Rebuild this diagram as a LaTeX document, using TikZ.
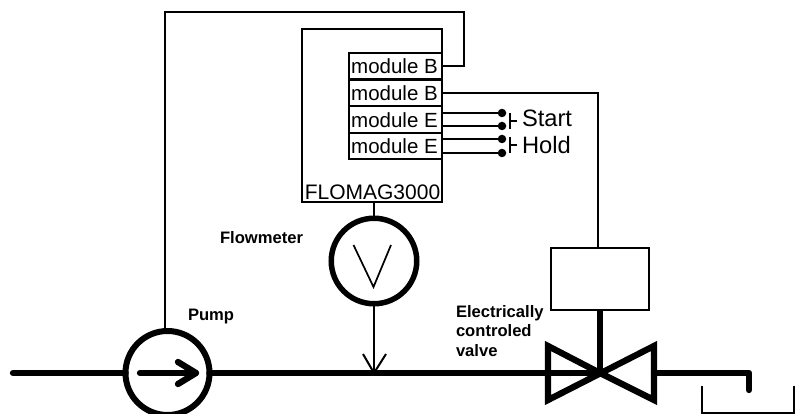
\documentclass[tikz,border=0pt]{standalone}
\usepackage{fontspec}
\setmainfont{Liberation Sans}
\begin{document}
\begin{tikzpicture}[x=1pt,y=-1pt,line cap=butt,
  every node/.style={outer sep=0pt},
  wire/.style={draw=black,line width=2pt},
  pipe/.style={draw=black,line width=6.3pt,line cap=round,line join=round},
  modulebox/.style={draw=black,line width=2pt,fill=white,minimum width=93pt,minimum height=26.5pt,inner sep=0pt,anchor=north west,font=\fontsize{20.5}{21}\selectfont},
  bold label/.style={font=\fontsize{16.6}{19.7}\selectfont\bfseries,inner sep=0pt,anchor=west,align=left},
  plain label/.style={font=\fontsize{23.7}{25}\selectfont,inner sep=0pt,anchor=west},
  contact/.style={circle,fill=black,minimum size=8.5pt,inner sep=0pt}]
\useasboundingbox (0,0) rectangle (796,414);
% controller
\node[draw=black,line width=2pt,minimum width=140pt,minimum height=173pt,inner sep=0pt,anchor=north west] (flomag) at (302,29) {};
\node[font=\fontsize{21}{22}\selectfont,inner sep=0pt,anchor=south] (flomagname) at (372.5,200) {FLOMAG3000};
\node[modulebox] (m1) at (349,53) {module B\kern2pt};
\node[modulebox] (m2) at (349,80) {module B\kern2pt};
\node[modulebox] (m3) at (349,106.5) {module E\kern2pt};
\node[modulebox] (m4) at (349,133) {module E\kern2pt};
% pump
\node[circle,draw=black,line width=6pt,minimum size=84pt,inner sep=0pt,fill=white] (pump) at (167.5,373) {};
\coordinate (pipestart) at (13,373);
\coordinate (arrowstart) at (140,373);
\coordinate (arrowtip) at (196,373);
% meter
\node[circle,draw=black,line width=5.5pt,minimum size=85.5pt,inner sep=0pt] (meter) at (374,261) {};
\coordinate (tap) at (374,373);
% valve
\coordinate (vc) at (600,373);
\node[draw=black,line width=2pt,minimum width=98pt,minimum height=62pt,inner sep=0pt,anchor=north west] (act) at (551,248) {};
% tank
\coordinate (tl) at (702,386);\coordinate (tr) at (794,386);
\coordinate (spout) at (749,390);
% pipes
\draw[pipe] (pipestart) -- (pump.west);
\draw[pipe] (pump.east) -- (vc);
\draw[pipe] (654,373) -- (749,373) -- (spout);
\draw[pipe] (arrowstart) -- (arrowtip);
\draw[pipe] (178,362) -- (arrowtip) -- (178,384);
\draw[pipe,line join=miter] (600,373) -- (548,346) -- (548,400) -- (654,346) -- (654,400) -- cycle;
\draw[draw=black,line width=6pt] (act.south -| vc) -- (vc);
% wires
\draw[wire] (m1.east) -| (464,12) -| (pump.north -| 165,0);
\draw[wire] (m2.east) -| (598,248);
\draw[wire] (flomag.south -| tap) -- (meter.north -| tap);
\draw[wire] (meter.south -| tap) -- (tap);
\draw[wire] (363,354) -- (tap) -- (386,354);
\draw[wire] (tl) -- (702,412.5) -- (794,412.5) -- (tr);
% flow V
\draw[draw=black,line width=1.7pt] (353.5,245) -- (373.5,287) -- (391,245);
% contacts
\node[contact] (c1) at (502,113) {};
\node[contact] (c2) at (502,126) {};
\node[contact] (c3) at (502,139) {};
\node[contact] (c4) at (502,153) {};
\draw[wire] (442,113) -- (c1);
\draw[wire] (442,126) -- (c2);
\draw[wire] (442,139) -- (c3);
\draw[wire] (442,153) -- (c4);
\coordinate (s1) at (510,121);\coordinate (s2) at (510,145);
\draw[wire] (510,113) -- (510,129);
\draw[wire] (s1) -- (517,121);
\draw[wire] (510,137) -- (510,153);
\draw[wire] (s2) -- (517,145);
% labels
\node[plain label] (start) at (522,118.5) {Start};
\node[plain label] (hold) at (522,145) {Hold};
\node[bold label] (lflow) at (220,238) {Flowmeter};
\node[bold label] (lpump) at (188,316.5) {Pump};
\node[bold label,anchor=north west] (lvalve) at (456,305) {Electrically\\controled\\valve};
\end{tikzpicture}
\end{document}
